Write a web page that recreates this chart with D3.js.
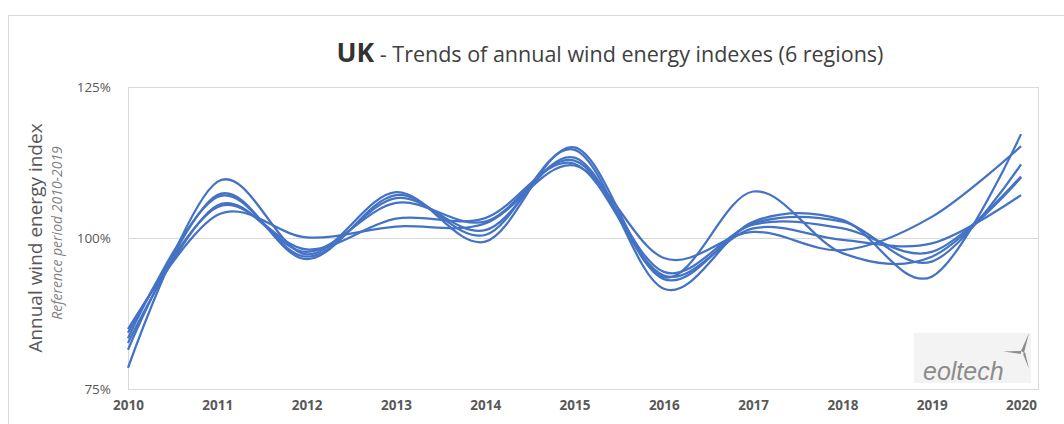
<html>
<head>
<meta charset="utf-8">
<title>UK wind energy indexes</title>
<style>
  body { margin: 0; background: #fff; }
  .line { fill: none; stroke: #4472C4; stroke-width: 2.25; }
  .grid { stroke: #d9d9d9; stroke-width: 1; }
  text { font-family: "Open Sans", sans-serif; }
</style>
</head>
<body>
<script src="https://d3js.org/d3.v7.min.js"></script>
<script>
// years on the x axis
var years = [2010, 2011, 2012, 2013, 2014, 2015, 2016, 2017, 2018, 2019, 2020];

// annual wind energy index (%) for the 6 regions
var region1 = [84.9, 103.8, 100.1, 101.9, 102.4, 112.0, 96.7, 101.0, 98.0, 103.5, 115.2];
var region2 = [78.5, 109.3, 97.3, 107.6, 99.4, 115.0, 93.5, 107.7, 97.5, 96.9, 110.0];
var region3 = [81.5, 107.1, 96.5, 107.1, 100.5, 114.6, 91.6, 102.7, 103.0, 93.6, 117.2];
var region4 = [83.4, 106.8, 96.9, 106.6, 101.3, 113.3, 93.2, 102.4, 102.7, 96.1, 112.2];
var region5 = [82.6, 105.4, 97.7, 105.8, 102.7, 112.8, 94.4, 102.2, 101.6, 97.7, 110.2];
var region6 = [84.3, 105.1, 98.1, 103.2, 103.3, 112.3, 93.8, 101.6, 99.7, 99.1, 107.1];
var regions = [region1, region2, region3, region4, region5, region6];

var yTicks = [75, 100, 125];

var W = 1064, H = 424;
var plot = {left: 128, right: 1038, top: 87, bottom: 389};

var svg = d3.select("body").append("svg")
    .attr("width", W)
    .attr("height", H);

// outer chart frame
svg.append("rect")
    .attr("x", 8.5).attr("y", 15.5)
    .attr("width", 1100).attr("height", 500)
    .attr("fill", "#fff")
    .attr("stroke", "#d9d9d9");

var xScale = d3.scaleLinear()
    .domain([2010, 2020.19])
    .range([plot.left, plot.right]);

var yScale = d3.scaleLinear()
    .domain([75, 125])
    .range([plot.bottom, plot.top]);

// gridlines + plot border
svg.append("g").selectAll("line")
    .data(yTicks)
    .enter().append("line")
    .attr("class", "grid")
    .attr("x1", plot.left).attr("x2", plot.right)
    .attr("y1", function(d){ return Math.round(yScale(d)) + 0.5; })
    .attr("y2", function(d){ return Math.round(yScale(d)) + 0.5; });

svg.append("rect")
    .attr("x", plot.left + 0.5).attr("y", plot.top + 0.5)
    .attr("width", plot.right - plot.left).attr("height", plot.bottom - plot.top)
    .attr("fill", "none")
    .attr("stroke", "#d9d9d9");

// y axis labels
var yAxis = svg.append("g")
    .attr("transform", "translate(" + (plot.left - 14) + ",0)")
    .call(d3.axisLeft(yScale).tickValues(yTicks).tickSize(0).tickFormat(function(d){ return d + "%"; }));
yAxis.select(".domain").remove();
yAxis.selectAll("text")
    .attr("fill", "#595959")
    .style("font-size", "13.5px")
    .style("font-family", "Open Sans, sans-serif");

// x axis labels
var xAxis = svg.append("g")
    .attr("transform", "translate(0," + (plot.bottom + 8) + ")")
    .call(d3.axisBottom(xScale).tickValues(years).tickSize(0).tickFormat(d3.format("d")));
xAxis.select(".domain").remove();
xAxis.selectAll("text")
    .attr("fill", "#595959")
    .style("font-size", "13.5px")
    .style("font-weight", "bold")
    .style("font-family", "Open Sans, sans-serif");

// smoothed lines
var line = d3.line()
    .x(function(d, i){ return xScale(years[i]); })
    .y(function(d){ return yScale(d); })
    .curve(d3.curveCardinal.tension(0));

svg.append("g").selectAll("path")
    .data(regions)
    .enter().append("path")
    .attr("class", "line")
    .attr("d", line);

// title
var title = svg.append("text")
    .attr("x", 610)
    .attr("y", 62)
    .attr("text-anchor", "middle")
    .attr("fill", "#404040");
title.append("tspan")
    .text("UK")
    .style("font-weight", "bold")
    .style("font-size", "26.5px")
    .attr("fill", "#333");
title.append("tspan")
    .text(" - Trends of annual wind energy indexes (6 regions)")
    .style("font-size", "21.5px");

// y axis titles
svg.append("text")
    .attr("transform", "translate(42,238) rotate(-90)")
    .attr("text-anchor", "middle")
    .attr("fill", "#595959")
    .style("font-size", "19px")
    .text("Annual wind energy index");

svg.append("text")
    .attr("transform", "translate(62,233) rotate(-90)")
    .attr("text-anchor", "middle")
    .attr("fill", "#7f7f7f")
    .style("font-size", "14px")
    .style("font-style", "italic")
    .text("Reference period 2010-2019");

// eoltech logo
var logo = svg.append("g");
logo.append("rect")
    .attr("x", 914).attr("y", 333)
    .attr("width", 117).attr("height", 50)
    .attr("fill", "#f3f3f3");
logo.append("text")
    .attr("x", 923).attr("y", 380)
    .attr("fill", "#8c8c8c")
    .style("font-size", "25px")
    .style("font-style", "italic")
    .style("font-family", "Liberation Sans, Arial, sans-serif")
    .text("eoltech");
logo.append("path")
    .attr("d", "M1021,351 L1029,333 L1024,353 Z M1021,351 L1003,351.5 L1021,354 Z M1023,354 L1029,369 L1025,352 Z")
    .attr("fill", "#8c8c8c");
</script>
</body>
</html>
